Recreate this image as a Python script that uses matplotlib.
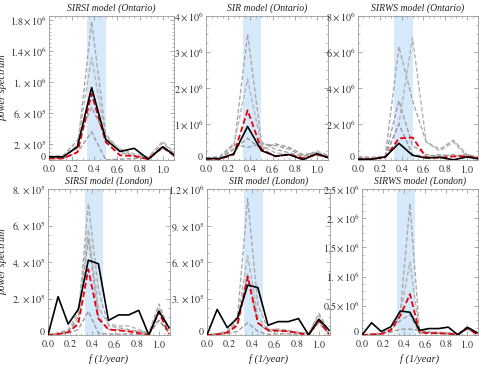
import numpy as np
import matplotlib
matplotlib.use("Agg")
import matplotlib.pyplot as plt
from matplotlib.ticker import MultipleLocator, AutoMinorLocator

plt.rcParams['mathtext.fontset'] = 'stix'
plt.rcParams['font.family'] = ['Liberation Serif', 'DejaVu Serif']

# ---------------- data ----------------
x_ontario = [0.0, 0.125, 0.25, 0.375, 0.5, 0.625, 0.75, 0.875, 1.0, 1.125]
x_london = [0/11, 1/11, 2/11, 3/11, 4/11, 5/11, 6/11, 7/11, 8/11, 9/11, 10/11, 11/11, 12/11]

ontario_data = [0.4, 0.4, 1.7, 9.3, 2.6, 1.1, 1.5, 0.1, 1.7, 0.4]          # x1e5
london_data = [0.0, 2.1, 0.6, 1.4, 4.1, 3.9, 0.8, 1.1, 1.1, 1.35, 0.0, 1.3, 0.4]  # x1e5

# SIRSI Ontario (x1e5)
sirsi_ont_mean = [0.2, 0.2, 1.0, 8.5, 2.3, 0.6, 0.5, 0.1, 1.7, 0.3]
sirsi_ont_runs = [
    [0.5, 0.5, 1.5, 17.8, 3.3, 1.2, 0.6, 0.3, 2.2, 0.5],
    [0.3, 0.4, 2.0, 13.2, 2.8, 1.4, 0.8, 0.4, 2.4, 0.6],
    [0.4, 0.6, 2.5, 6.8, 3.0, 1.0, 0.5, 0.3, 1.6, 0.4],
    [0.2, 0.2, 1.0, 3.6, 0.0, 0.1, 0.2, 0.2, 1.5, 0.3],
]
# SIR Ontario (x1e5)
sir_ont_mean = [0.3, 0.3, 1.5, 13.8, 3.0, 1.0, 1.5, 0.5, 1.5, 0.5]
sir_ont_runs = [
    [0.5, 0.5, 3.0, 35.0, 5.0, 3.0, 2.0, 1.0, 2.0, 0.5],
    [0.5, 0.5, 4.0, 22.5, 4.0, 2.0, 1.5, 1.0, 2.5, 1.0],
    [0.5, 1.0, 4.5, 3.5, 4.5, 4.0, 3.0, 1.0, 2.0, 1.0],
    [0.5, 0.5, 3.0, 6.0, 3.0, 4.5, 3.5, 1.5, 2.0, 0.5],
]
# SIRWS Ontario (x1e5)
sirws_ont_mean = [0.5, 0.5, 1.5, 12.0, 12.5, 1.5, 1.2, 2.0, 2.0, 1.0]
sirws_ont_runs = [
    [2.0, 1.5, 2.0, 63.0, 33.0, 10.0, 6.0, 11.0, 3.0, 1.0],
    [1.0, 1.0, 2.0, 20.0, 68.0, 10.0, 5.0, 10.0, 2.0, 1.0],
    [1.0, 1.0, 2.0, 33.0, 8.0, 3.0, 2.0, 3.0, 2.0, 1.0],
    [1.0, 1.0, 2.0, 20.0, 3.0, 2.0, 3.0, 2.0, 3.0, 1.0],
]
# SIRSI London (x1e5)
sirsi_lon_mean = [0.0, 0.05, 0.15, 0.6, 3.6, 0.9, 0.3, 0.25, 0.2, 0.1, 0.0, 1.25, 0.05]
sirsi_lon_runs = [
    [0.0, 0.1, 0.2, 1.0, 7.2, 2.5, 0.5, 0.4, 0.3, 0.2, 0.1, 1.7, 0.3],
    [0.0, 0.1, 0.3, 1.2, 5.8, 1.5, 0.6, 0.5, 0.5, 0.3, 0.1, 1.5, 0.4],
    [0.0, 0.1, 0.2, 0.8, 5.3, 1.0, 0.3, 0.3, 0.2, 0.2, 0.1, 0.8, 0.2],
    [0.0, 0.05, 0.1, 0.3, 1.3, 0.1, 0.05, 0.05, 0.05, 0.05, 0.05, 0.8, 0.1],
]
# SIR London (x1e5)
sir_lon_mean = [0.0, 0.05, 0.2, 0.8, 4.8, 1.0, 0.4, 0.35, 0.3, 0.15, 0.0, 1.2, 0.05]
sir_lon_runs = [
    [0.0, 0.1, 0.3, 1.5, 11.2, 2.5, 0.5, 0.4, 0.3, 0.2, 0.1, 1.8, 0.3],
    [0.0, 0.1, 0.3, 1.2, 6.5, 1.5, 0.4, 0.5, 0.4, 0.2, 0.1, 1.6, 0.3],
    [0.0, 0.1, 0.2, 1.0, 5.0, 1.0, 0.3, 0.3, 0.3, 0.2, 0.1, 1.2, 0.2],
    [0.0, 0.05, 0.1, 0.3, 1.0, 0.3, 0.05, 0.1, 0.1, 0.05, 0.05, 1.0, 0.1],
]
# SIRWS London (x1e5)
sirws_lon_mean = [0.0, 0.1, 0.2, 0.8, 3.3, 7.0, 0.5, 0.3, 0.3, 0.2, 0.1, 1.2, 0.1]
sirws_lon_runs = [
    [0.0, 0.1, 0.3, 1.0, 4.0, 22.5, 0.5, 0.5, 0.5, 0.3, 0.2, 1.5, 0.3],
    [0.0, 0.1, 0.3, 1.0, 3.5, 12.5, 0.4, 0.4, 0.4, 0.3, 0.2, 1.3, 0.3],
    [0.0, 0.1, 0.2, 0.8, 2.5, 3.5, 0.3, 0.3, 0.3, 0.2, 0.1, 1.0, 0.2],
    [0.0, 0.1, 0.2, 0.5, 1.0, 1.0, 0.8, 0.5, 0.3, 0.3, 0.2, 1.0, 0.2],
]

titles = ["SIRSI model (Ontario)", "SIR model (Ontario)", "SIRWS model (Ontario)",
          "SIRSI model (London)", "SIR model (London)", "SIRWS model (London)"]

ytick_values = [
    [0, 2e5, 6e5, 1e6, 1.4e6, 1.8e6],
    [0, 1e6, 2e6, 3e6, 4e6],
    [0, 2e6, 4e6, 6e6, 8e6],
    [0, 2e5, 4e5, 6e5, 8e5],
    [0, 3e5, 6e5, 9e5, 1.2e6],
    [0, 0.5e6, 1e6, 1.5e6, 2e6, 2.5e6],
]
ytick_labels = [
    ["0", r"2.\times10^{5}", r"6.\times10^{5}", r"1.\times10^{6}", r"1.4\times10^{6}", r"1.8\times10^{6}"],
    ["0", r"1\times10^{6}", r"2\times10^{6}", r"3\times10^{6}", r"4\times10^{6}"],
    ["0", r"2\times10^{6}", r"4\times10^{6}", r"6\times10^{6}", r"8\times10^{6}"],
    ["0", r"2.\times10^{5}", r"4.\times10^{5}", r"6.\times10^{5}", r"8.\times10^{5}"],
    ["0", r"3.\times10^{5}", r"6.\times10^{5}", r"9.\times10^{5}", r"1.2\times10^{6}"],
    ["0", r"0.5\times10^{6}", r"1.\times10^{6}", r"1.5\times10^{6}", r"2.\times10^{6}", r"2.5\times10^{6}"],
]
ymax = [1.85e6, 4.0e6, 8.0e6, 8.0e5, 1.2e6, 2.5e6]
xtick_values = [0.0, 0.2, 0.4, 0.6, 0.8, 1.0]
xtick_labels = ["0.0", "0.2", "0.4", "0.6", "0.8", "1.0"]
band = (1/3, 1/2)

panels = [
    (x_ontario, ontario_data, sirsi_ont_mean, sirsi_ont_runs),
    (x_ontario, ontario_data, sir_ont_mean, sir_ont_runs),
    (x_ontario, ontario_data, sirws_ont_mean, sirws_ont_runs),
    (x_london, london_data, sirsi_lon_mean, sirsi_lon_runs),
    (x_london, london_data, sir_lon_mean, sir_lon_runs),
    (x_london, london_data, sirws_lon_mean, sirws_lon_runs),
]

# ---------------- layout ----------------
W, H = 479, 365
fig = plt.figure(figsize=(W / 100, H / 100), dpi=100)
boxes_px = [
    (49, 174, 16, 160), (206, 328, 16, 160), (358, 478, 16, 160),
    (48, 170, 189, 335), (207, 330, 189, 335), (362, 478, 189, 335),
]
gray_cols = ['#a9a9a9', '#b4b4b4', '#a0a0a0', '#9a9a9a']
frame_col = '#9a9a9a'

for i, (box, (xs, data, mean, runs)) in enumerate(zip(boxes_px, panels)):
    l, r, t, b = box
    ax = fig.add_axes([l / W, 1 - b / H, (r - l) / W, (b - t) / H])
    ax.axvspan(band[0], band[1], color='#d6e9fb', lw=0, zorder=0)
    for k, run in enumerate(runs):
        ax.plot(xs, np.array(run) * 1e5, color=gray_cols[k], lw=1.0,
                dashes=(3.2, 1.6), zorder=2)
    ax.plot(xs, np.array(data) * 1e5, color='black', lw=1.2, zorder=4)
    ax.plot(xs, np.array(mean) * 1e5, color='#e8000b', lw=1.3,
            dashes=(3.2, 1.6), zorder=3)
    ax.set_xlim(0, 1.1)
    ax.set_ylim(0, ymax[i])
    ax.set_xticks(xtick_values)
    ax.set_xticklabels([r"$\mathit{" + s + "}$" for s in xtick_labels])
    ax.set_yticks(ytick_values[i])
    ax.set_yticklabels([r"$\mathit{" + s + "}$" for s in ytick_labels[i]])
    ax.xaxis.set_minor_locator(MultipleLocator(0.05))
    ax.yaxis.set_minor_locator(AutoMinorLocator(4))
    ax.tick_params(which='both', direction='in', top=True, right=True,
                   color=frame_col, labelsize=7.2, labelcolor='#333333', pad=1.5)
    ax.tick_params(axis='x', which='major', pad=2.5)
    ax.tick_params(which='major', length=3, width=0.6)
    ax.tick_params(which='minor', length=1.6, width=0.5)
    # put the "0" label on its baseline so it sits just above the x tick labels
    ax.get_yticklabels()[0].set_verticalalignment('baseline')
    for s in ax.spines.values():
        s.set_color(frame_col)
        s.set_linewidth(0.6)
    ax.set_title(titles[i], fontsize=7, style='italic', pad=4, color='#222222')
    if i in (0, 3):
        ax.set_ylabel("power spectrum", fontsize=7.5, style='italic',
                      color='#222222')
        ax.yaxis.set_label_coords(8 / W, 1 - ((t + b) / 2) / H,
                                  transform=fig.transFigure)
    if i >= 3:
        ax.set_xlabel("f (1/year)", fontsize=7.5, style='italic',
                      color='#222222')
        ax.xaxis.set_label_coords(((l + r) / 2) / W, 1 - 354 / H,
                                  transform=fig.transFigure)

fig.savefig("out.png", dpi=100)
